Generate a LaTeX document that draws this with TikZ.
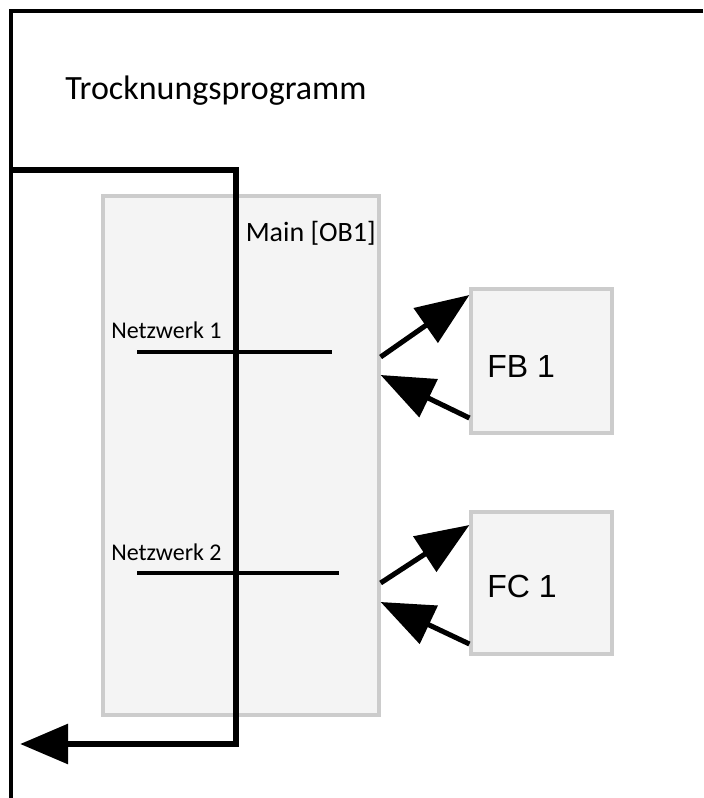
\documentclass[tikz,border=0pt]{standalone}
\usepackage{fontspec}
\setmainfont{Carlito}
\newfontfamily\arialfont{Liberation Sans}
\usetikzlibrary{arrows.meta}
\definecolor{boxfill}{HTML}{F4F4F4}
\definecolor{boxline}{HTML}{CCCCCC}

\begin{document}
\begin{tikzpicture}[
  x=0.75pt, y=-0.75pt,
  block/.style={draw=boxline, fill=boxfill, line width=2.4pt, inner sep=0pt},
  frameline/.style={draw=black, line width=3pt, line join=miter},
  loopline/.style={draw=black, line width=5.2pt, line join=miter, -{Triangle[length=36pt, width=29pt]}},
  call/.style={draw=black, line width=3.8pt, -{Triangle[length=40pt, width=31pt]}},
  netline/.style={draw=black, line width=3pt},
  lbl/.style={inner sep=0pt, font=\fontsize{18}{21}\selectfont},
  blocklbl/.style={inner sep=0pt, font=\arialfont\fontsize{24}{28}\selectfont}
]
  \useasboundingbox (0,0) rectangle (703,798);

  % Outer program frame
  \draw[frameline] (703,11) -- (11,11) -- (11,798);
  \node[inner sep=0pt, anchor=base west, font=\fontsize{25.5}{30}\selectfont] (title) at (65,100) {Trocknungsprogramm};

  % Blocks
  \node[block, minimum width=207pt, minimum height=389.25pt] (main) at (241,455.5) {};
  \node[lbl, anchor=base east, font=\fontsize{21}{25}\selectfont] (mainlbl) at (376,242) {Main [OB1]};
  \node[block, minimum width=105.75pt, minimum height=108pt] (fb) at (541.5,361) {};
  \node[blocklbl, anchor=base west] (fblbl) at (487,377) {FB 1};
  \node[block, minimum width=105.75pt, minimum height=106.5pt] (fc) at (541.5,583) {};
  \node[blocklbl, anchor=base west] (fclbl) at (487,597) {FC 1};

  % Cycle through OB1
  \coordinate (loopin) at (11,170);
  \coordinate (loopend) at (20,744);
  \draw[loopline] (loopin) -- (236,170) -- (236,744) -- (loopend);

  % Networks
  \node[lbl, anchor=base west] (nw1) at (111,338) {Netzwerk 1};
  \draw[netline] (137,352) -- (332,352);
  \node[lbl, anchor=base west] (nw2) at (111,560) {Netzwerk 2};
  \draw[netline] (137,573) -- (339,573);

  % Calls and returns
  \draw[call] (main.east |- 0,357) -- (fb.west |- 0,295);
  \draw[call] (fb.west |- 0,418) -- (main.east |- 0,375);
  \draw[call] (main.east |- 0,583) -- (fc.west |- 0,525);
  \draw[call] (fc.west |- 0,644) -- (main.east |- 0,602);
\end{tikzpicture}
\end{document}
